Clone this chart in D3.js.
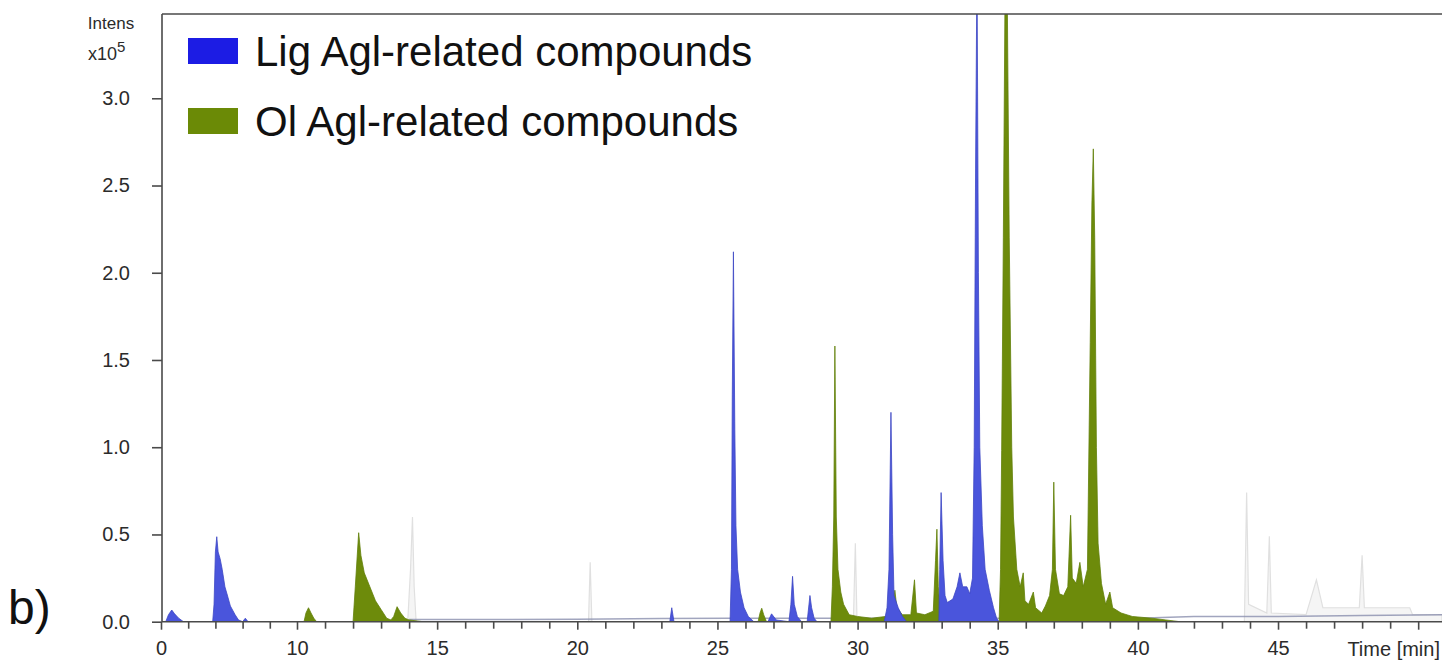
<!DOCTYPE html>
<html>
<head>
<meta charset="utf-8">
<script src="https://cdn.jsdelivr.net/npm/d3@7"></script>
<style>
  html, body { margin: 0; padding: 0; background: #fff; }
  svg { display: block; font-family: "Liberation Sans", Arial, sans-serif; }
</style>
</head>
<body>
<svg id="chart" width="1445" height="661"></svg>
<script>
// ---------------- DATA ----------------
// Lig Agl-related compounds trace: [time (min), intensity (x10^5)]
const ligTrace = [
  [0,0],[0.35,0],[0.55,0.04],[0.79,0.067],[1.0,0.045],[1.3,0.02],[1.65,0],
  [3.8,0],[3.9,0.1],[4.0,0.4],[4.1,0.487],[4.2,0.4],[4.35,0.36],[4.5,0.3],[4.7,0.2],[4.85,0.16],[5.1,0.09],[5.45,0.04],[5.7,0.01],[6.0,0],[6.2,0.02],[6.4,0],
  [23.3,0],[23.37,0.08],[23.45,0],
  [25.45,0],[25.5,0.3],[25.53,1.3],[25.57,2.12],[25.62,1.1],[25.66,0.55],[25.72,0.3],[25.82,0.17],[25.95,0.08],[26.1,0.03],[26.3,0],
  [26.8,0],[26.93,0.045],[27.1,0.01],[27.55,0],[27.62,0.1],[27.68,0.26],[27.74,0.1],[27.85,0.03],[28.0,0],
  [28.2,0],[28.3,0.15],[28.36,0.08],[28.45,0.02],[28.55,0],
  [30.95,0],[31.05,0.08],[31.12,0.3],[31.19,1.2],[31.25,0.5],[31.3,0.15],[31.45,0.08],[31.6,0.03],[31.75,0],
  [32.9,0],[32.93,0.3],[32.98,0.74],[33.05,0.35],[33.12,0.15],[33.2,0.11],[33.4,0.13],[33.55,0.2],[33.65,0.28],[33.75,0.2],[33.9,0.2],[34.0,0.16],[34.1,0.25],[34.16,1.0],[34.21,2.6],[34.26,3.8],[34.31,2.0],[34.36,1.0],[34.45,0.55],[34.55,0.3],[34.7,0.18],[34.85,0.08],[34.96,0.02],[35.05,0],
  [50.85,0]
];
// Ol Agl-related compounds trace
const olTrace = [
  [0,0],[10.25,0],[10.32,0.05],[10.41,0.08],[10.5,0.05],[10.6,0.02],[10.7,0],
  [12.0,0],[12.08,0.2],[12.2,0.51],[12.28,0.38],[12.4,0.28],[12.6,0.2],[12.8,0.12],[13.0,0.07],[13.2,0.02],[13.35,0.01],[13.45,0.03],[13.57,0.086],[13.7,0.05],[13.85,0.02],[14.0,0.01],[14.5,0],
  [26.45,0],[26.52,0.05],[26.58,0.077],[26.65,0.04],[26.75,0],
  [29.05,0],[29.1,0.2],[29.15,0.6],[29.19,1.58],[29.24,0.6],[29.3,0.3],[29.4,0.17],[29.5,0.1],[29.7,0.04],[30.0,0.03],[30.5,0.02],[31.0,0.03],[31.25,0.06],[31.33,0.18],[31.4,0.08],[31.6,0.04],[31.9,0.04],[32.03,0.24],[32.1,0.05],[32.4,0.04],[32.7,0.06],[32.78,0.35],[32.83,0.53],[32.88,0.2],[32.95,0.06],[33.1,0],
  [35.05,0],[35.1,0.3],[35.14,0.98],[35.2,2.2],[35.26,3.6],[35.34,3.6],[35.41,2.2],[35.5,1.0],[35.56,0.6],[35.68,0.3],[35.8,0.2],[35.91,0.28],[35.97,0.12],[36.1,0.1],[36.27,0.17],[36.35,0.08],[36.57,0.05],[36.7,0.09],[36.85,0.15],[36.95,0.3],[37.0,0.8],[37.06,0.3],[37.2,0.16],[37.35,0.15],[37.5,0.2],[37.6,0.61],[37.66,0.25],[37.8,0.22],[37.93,0.34],[38.05,0.2],[38.2,0.3],[38.3,1.6],[38.36,2.4],[38.41,2.71],[38.46,2.2],[38.52,1.0],[38.58,0.45],[38.7,0.22],[38.85,0.1],[39.0,0.17],[39.1,0.08],[39.4,0.05],[39.8,0.03],[40.5,0.02],[41.0,0.01],[41.5,0],
  [50.85,0]
];
// Other (faint grey) traces
const greyTrace = [
  [0,0],[13.95,0],[14.05,0.3],[14.12,0.6],[14.18,0.2],[14.25,0],
  [20.4,0],[20.46,0.34],[20.52,0],
  [29.85,0],[29.92,0.45],[29.98,0],
  [43.8,0],[43.88,0.74],[43.95,0.1],[44.6,0.05],[44.69,0.49],[44.76,0.05],[46.0,0.04],[46.37,0.24],[46.6,0.08],[47.9,0.08],[48.0,0.38],[48.08,0.08],[49.7,0.08],[49.8,0.04],[50.85,0.04]
];
// Baseline trace (dark thin line)
const baseTrace = [
  [14,0.012],[20,0.014],[23,0.018],[25.4,0.02],[40,0.02],[42,0.03],[45,0.03],[48,0.035],[50.85,0.04]
];
const xMajorTicks = [0,10,15,20,25,30,35,40,45,50];
const xMajorLabels = ["0","10","15","20","25","30","35","40","45",""];
const xMinorTicks = [2,4,6,8,11,12,13,14,16,17,18,19,21,22,23,24,26,27,28,29,31,32,33,34,36,37,38,39,41,42,43,44,46,47,48,49];
const yTicks = [0,0.5,1.0,1.5,2.0,2.5,3.0];
const legendLabels = ["Lig Agl-related compounds","Ol Agl-related compounds"];
const legendColors = ["#1c1ce4","#6b8a06"];

// ---------------- CHART ----------------
const svg = d3.select("#chart");
const pLeft = 162, pRight = 1442, pTop = 14, pBottom = 621.7;

const x = d3.scaleLinear().domain([0,10,50.85]).range([161,297,pRight]);
const y = d3.scaleLinear().domain([0,3.483]).range([pBottom, pTop]);

svg.append("defs").append("clipPath").attr("id","plotclip")
  .append("rect").attr("x", pLeft).attr("y", pTop).attr("width", pRight-pLeft).attr("height", pBottom-pTop);

const plot = svg.append("g").attr("clip-path","url(#plotclip)");

const area = d3.area().x(d => x(d[0])).y0(y(0)).y1(d => y(d[1]));
const line = d3.line().x(d => x(d[0])).y(d => y(d[1]));

plot.append("path").datum(greyTrace).attr("d", area)
  .attr("fill","#f5f5f5").attr("stroke","#e0e0e0").attr("stroke-width",1.2);
plot.append("path").datum(baseTrace).attr("d", line)
  .attr("fill","none").attr("stroke","#8a8fae").attr("stroke-width",1.5).attr("opacity",0.8);
plot.append("path").datum(olTrace).attr("d", area)
  .attr("fill","#6d8b0b").attr("stroke","#62800a").attr("stroke-width",0.8);
plot.append("path").datum(ligTrace).attr("d", area)
  .attr("fill","#4a55dc").attr("stroke","#3d48c4").attr("stroke-width",0.8);

// axes
const axisColor = "#4a4a4a";
const textColor = "#2b2b2b";

const xAxis = svg.append("g").attr("transform",`translate(0,${pBottom})`)
  .call(d3.axisBottom(x).tickValues(xMajorTicks).tickSize(8).tickSizeOuter(0).tickPadding(11)
    .tickFormat((d,i) => xMajorLabels[i]));
xAxis.select(".domain").attr("stroke", axisColor).attr("stroke-width",1.6).attr("d", `M${pLeft},0H${pRight}`);
xAxis.selectAll(".tick line").attr("stroke", axisColor).attr("stroke-width",1.6);
xAxis.selectAll(".tick text").attr("fill", textColor).style("font-size","20px");

const xMinor = svg.append("g").attr("transform",`translate(0,${pBottom})`)
  .call(d3.axisBottom(x).tickValues(xMinorTicks).tickSize(7).tickSizeOuter(0).tickFormat(""));
xMinor.select(".domain").remove();
xMinor.selectAll(".tick line").attr("stroke", axisColor).attr("stroke-width",1.6);

const yAxis = svg.append("g").attr("transform",`translate(${pLeft},0)`)
  .call(d3.axisLeft(y).tickValues(yTicks).tickSize(10).tickSizeOuter(0).tickPadding(22)
    .tickFormat(d3.format(".1f")));
yAxis.select(".domain").attr("stroke", axisColor).attr("stroke-width",1.6).attr("d", `M0,${pBottom}V${pTop}`);
yAxis.selectAll(".tick line").attr("stroke", axisColor).attr("stroke-width",1.6);
yAxis.selectAll(".tick text").attr("fill", textColor).style("font-size","20px");

// top frame line
svg.append("line").attr("x1", pLeft).attr("x2", pRight).attr("y1", pTop).attr("y2", pTop)
  .attr("stroke", axisColor).attr("stroke-width",1.6);

// axis titles
svg.append("text").attr("x",111).attr("y",29).attr("text-anchor","middle")
  .attr("fill",textColor).style("font-size","17px").text("Intens");
const xt = svg.append("text").attr("x",88).attr("y",60).attr("fill",textColor).style("font-size","18px");
xt.append("tspan").text("x10");
xt.append("tspan").attr("dy",-8).style("font-size","15px").text("5");

svg.append("text").attr("x",1440).attr("y",656).attr("text-anchor","end")
  .attr("fill",textColor).style("font-size","20px").text("Time [min]");

// panel label
svg.append("text").attr("x",8).attr("y",624).attr("fill","#111")
  .style("font-size","48px").text("b)");

// legend
const lg = svg.append("g");
legendLabels.forEach((lab, i) => {
  const cy = 51 + i*70;
  lg.append("rect").attr("x",188).attr("y",cy-13).attr("width",50).attr("height",26)
    .attr("fill", legendColors[i]);
  lg.append("text").attr("x",255).attr("y",cy).attr("dy","0.35em")
    .attr("fill","#111").style("font-size","42px").text(lab);
});
</script>
</body>
</html>
